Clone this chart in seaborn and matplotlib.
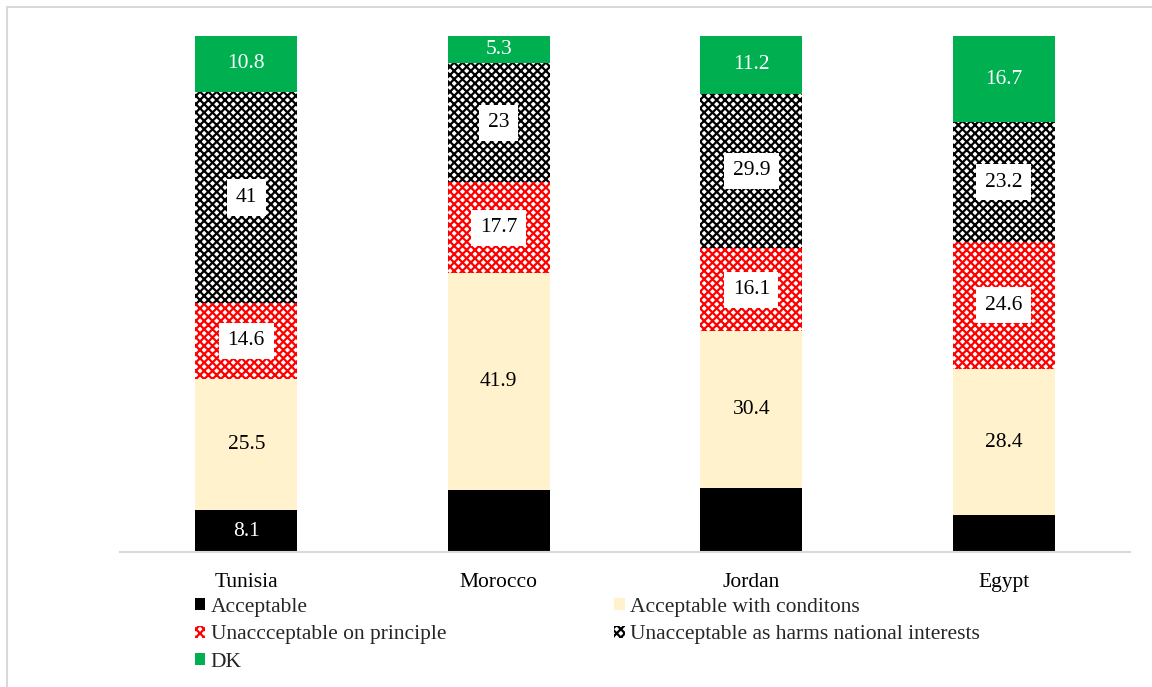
import matplotlib
matplotlib.use("Agg")
import matplotlib.pyplot as plt
import matplotlib.patches as mpatches
import numpy as np
import seaborn as sns

countries = ["Tunisia", "Morocco", "Jordan", "Egypt"]

acceptable = [8.1, 12.1, 12.4, 7.1]
acceptable_cond = [25.5, 41.9, 30.4, 28.4]
unacc_principle = [14.6, 17.7, 16.1, 24.6]
unacc_interests = [41.0, 23.0, 29.9, 23.2]
dont_know = [10.8, 5.3, 11.2, 16.7]

# shown text for each segment ("" = no label)
acceptable_labels = ["8.1", "", "", ""]
acceptable_cond_labels = ["25.5", "41.9", "30.4", "28.4"]
unacc_principle_labels = ["14.6", "17.7", "16.1", "24.6"]
unacc_interests_labels = ["41", "23", "29.9", "23.2"]
dont_know_labels = ["10.8", "5.3", "11.2", "16.7"]

series_names = [
    "Acceptable",
    "Acceptable with conditons",
    "Unaccceptable on principle",
    "Unacceptable as harms national interests",
    "DK",
]

sns.set_theme(style="white")
plt.rcParams["font.family"] = ["Liberation Serif", "DejaVu Serif"]
plt.rcParams["hatch.linewidth"] = 1.6

FS = 15.5

fig = plt.figure(figsize=(11.52, 6.87), dpi=100)
ax = fig.add_axes([0.1042, 0.1965, 0.8767, 0.7511])

layers = [
    (acceptable, acceptable_labels, dict(color="#000000"), "white", None),
    (acceptable_cond, acceptable_cond_labels, dict(color="#FFF2CC"), "black", None),
    (unacc_principle, unacc_principle_labels,
     dict(color="white", edgecolor="#FF0000", hatch="xxxx"), "black", "white"),
    (unacc_interests, unacc_interests_labels,
     dict(color="white", edgecolor="#000000", hatch="xxxx"), "black", "white"),
    (dont_know, dont_know_labels, dict(color="#00B050"), "white", None),
]

bottom = np.zeros(len(countries))
handles = []
for (vals, labs, style, txtcolor, boxcolor), name in zip(layers, series_names):
    before = len(ax.containers)
    sns.barplot(x=countries, y=vals, bottom=bottom, width=0.404, linewidth=0,
                saturation=1, ax=ax, **style)
    cont = ax.containers[before]
    texts = ax.bar_label(cont, labels=labs, label_type="center", fontsize=FS,
                         color=txtcolor)
    if boxcolor:
        for t in texts:
            if t.get_text():
                t.set_bbox(dict(boxstyle="square,pad=0.4", facecolor=boxcolor,
                                edgecolor="none"))
    bottom = bottom + np.array(vals)
    hstyle = dict(style)
    hstyle["facecolor"] = hstyle.pop("color")
    handles.append(mpatches.Patch(linewidth=0, label=name, **hstyle))

ax.set_xlim(-0.5, 3.5)
ax.set_ylim(0, 100)
ax.set_yticks([])
ax.set_xlabel("")
ax.set_ylabel("")
for s in ["top", "left", "right"]:
    ax.spines[s].set_visible(False)
ax.spines["bottom"].set_color("#D9D9D9")
ax.spines["bottom"].set_linewidth(1.5)
ax.tick_params(axis="x", length=0, pad=15, labelsize=FS, colors="black")

order = [0, 2, 4, 1, 3]
fig.legend([handles[i] for i in order], [series_names[i] for i in order],
           loc="upper left", bbox_to_anchor=(0.169, 0.13), ncol=2,
           frameon=False, fontsize=FS, handlelength=0.5, handleheight=0.5,
           handletextpad=0.25, columnspacing=7.8, labelspacing=0.4, borderpad=0,
           borderaxespad=0)

frame = mpatches.Rectangle((7 / 1152, -0.2), 1.2, 1.2 - 7 / 687,
                           transform=fig.transFigure, fill=False,
                           edgecolor="#D9D9D9", linewidth=1.5)
fig.patches.append(frame)

fig.savefig("out.png", dpi=100)
